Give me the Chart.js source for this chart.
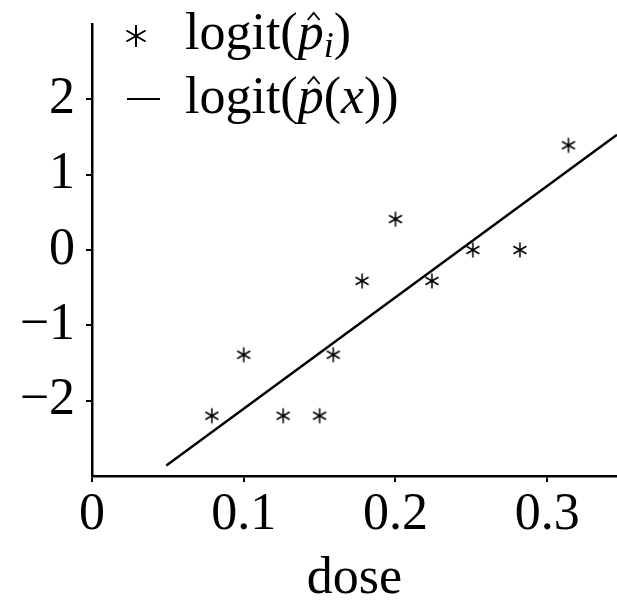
<!DOCTYPE html>
<html>
<head>
<meta charset="utf-8">
<script src="https://cdn.jsdelivr.net/npm/chart.js@4/dist/chart.umd.min.js"></script>
<style>
  html, body { margin:0; padding:0; background:#fff; overflow:hidden; }
  #wrap { position:relative; width:617px; height:600px; }
</style>
</head>
<body>
<div id="wrap"><canvas id="c"></canvas></div>
<script>
// observed points: dose vs empirical logit
const doses  = [0.079, 0.1, 0.126, 0.15, 0.159, 0.178, 0.2, 0.224, 0.251, 0.282, 0.314];
const logits = [-2.2, -1.39, -2.2, -2.2, -1.39, -0.41, 0.41, -0.41, 0, 0, 1.39];
// fitted logit line (end points)
const fitX = [0.049, 0.346];
const fitY = [-2.86, 1.53];
const xTicks = [0, 0.1, 0.2, 0.3];
const yTicks = [-2, -1, 0, 1, 2];

const FONT = '"Liberation Serif", "Times New Roman", serif';

function drawAst(ctx, cx, cy, r, lw){
  ctx.save();
  ctx.strokeStyle = '#000';
  ctx.lineWidth = lw;
  ctx.beginPath();
  for (let k = 0; k < 3; k++){
    const a = Math.PI/2 + k*Math.PI/3;
    ctx.moveTo(cx + r*Math.cos(a), cy - r*Math.sin(a));
    ctx.lineTo(cx - r*Math.cos(a), cy + r*Math.sin(a));
  }
  ctx.stroke();
  ctx.restore();
}

// asterisk marker as an image point style
const astImg = document.createElement('canvas');
astImg.width = 18; astImg.height = 18;
drawAst(astImg.getContext('2d'), 9, 9, 7.5, 1.5);

function fmt(v){
  const s = String(Math.abs(v));
  return v < 0 ? '\u2212' + s : s;
}

// legend drawn inside the plot, top-left
const legendPlugin = {
  id: 'mathLegend',
  afterDraw(chart){
    const ctx = chart.ctx;
    ctx.save();
    ctx.fillStyle = '#000';
    ctx.strokeStyle = '#000';
    ctx.textBaseline = 'alphabetic';
    ctx.textAlign = 'left';
    const big = '52px ' + FONT, ital = 'italic 52px ' + FONT, sub = 'italic 36px ' + FONT;

    function run(parts, x, y){
      parts.forEach(p => {
        ctx.font = p.f;
        const dy = p.dy || 0;
        ctx.fillText(p.t, x, y + dy);
        const w = ctx.measureText(p.t).width;
        if (p.hat){
          const cx = x + w/2 + 3, top = y - 36;
          ctx.lineWidth = 1.8;
          ctx.beginPath();
          ctx.moveTo(cx - 6, top + 7); ctx.lineTo(cx, top); ctx.lineTo(cx + 6, top + 7);
          ctx.stroke();
        }
        x += w;
      });
    }

    drawAst(ctx, 136, 36, 11, 2);
    run([{t:'logit(', f:big}, {t:'p', f:ital, hat:true}, {t:'i', f:sub, dy:8}, {t:')', f:big}], 185, 49);

    ctx.lineWidth = 2;
    ctx.beginPath(); ctx.moveTo(127, 99); ctx.lineTo(160, 99); ctx.stroke();
    run([{t:'logit(', f:big}, {t:'p', f:ital, hat:true}, {t:'(', f:big}, {t:'x', f:ital}, {t:'))', f:big}], 185, 113);
    ctx.restore();
  }
};

new Chart(document.getElementById('c'), {
  type: 'scatter',
  data: {
    datasets: [
      {
        label: 'logit(p̂ᵢ)',
        data: doses.map((d, i) => ({ x: d, y: logits[i] })),
        pointStyle: astImg,
        pointRadius: 8,
        showLine: false
      },
      {
        label: 'logit(p̂(x))',
        data: fitX.map((d, i) => ({ x: d, y: fitY[i] })),
        showLine: true,
        borderColor: '#000',
        borderWidth: 2.5,
        pointRadius: 0
      }
    ]
  },
  options: {
    responsive: true,
    maintainAspectRatio: false,
    animation: false,
    layout: { autoPadding: false, padding: { top: 22, right: 0, left: 0, bottom: 0 } },
    plugins: { legend: { display: false }, tooltip: { enabled: false } },
    scales: {
      x: {
        type: 'linear', min: 0, max: 0.346,
        afterBuildTicks: s => { s.ticks = xTicks.map(v => ({ value: v })); },
        afterFit: s => { s.height = 124; },
        border: { color: '#000', width: 2.5 },
        grid: { drawOnChartArea: false, color: '#000', lineWidth: 2, tickLength: 6 },
        ticks: { color: '#000', font: { family: FONT, size: 52 }, padding: 2, maxRotation: 0, callback: v => fmt(v) },
        title: { display: true, text: 'dose', color: '#000', font: { family: FONT, size: 52, lineHeight: 0.8 }, padding: { top: 0, bottom: 0 } }
      },
      y: {
        type: 'linear', min: -3, max: 3,
        afterBuildTicks: s => { s.ticks = yTicks.map(v => ({ value: v })); },
        afterFit: s => { s.width = 92; },
        border: { color: '#000', width: 2.5 },
        grid: { drawOnChartArea: false, color: '#000', lineWidth: 2, tickLength: 6 },
        ticks: { color: '#000', font: { family: FONT, size: 52, lineHeight: 0.5 }, padding: 11, callback: v => fmt(v) }
      }
    }
  },
  plugins: [legendPlugin]
});
</script>
</body>
</html>
